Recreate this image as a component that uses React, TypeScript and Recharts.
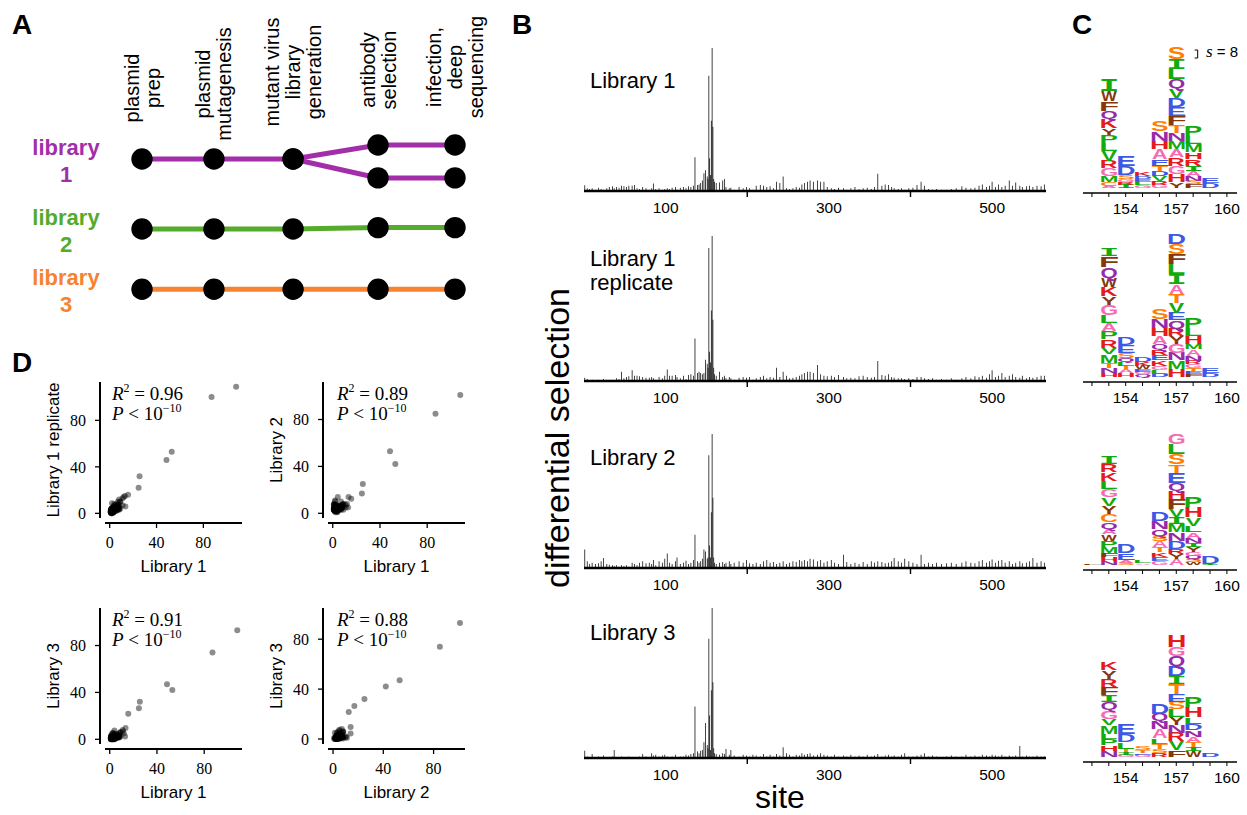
import React from 'react';
import {
  BarChart,
  Bar,
  ScatterChart,
  Scatter,
  XAxis,
  YAxis,
  ReferenceLine,
} from 'recharts';

const SANS = '"Liberation Sans", Arial, Helvetica, sans-serif';
const SERIF = '"Liberation Serif", "DejaVu Serif", "Times New Roman", serif';
const MONO = '"DejaVu Sans Mono", monospace';

/* ---------- A: how the libraries were made ---------- */
const stageLabels = [
  ['plasmid', 'prep'],
  ['plasmid', 'mutagenesis'],
  ['mutant virus', 'library', 'generation'],
  ['antibody', 'selection'],
  ['infection,', 'deep', 'sequencing'],
];
const stagePositions = [0, 1, 2.1, 3.28, 4.35];
const stageLabelMid = [88, 84, 72, 70, 67];

const lib1UpperTrack = [1, 1, 1, 0.8, 0.8];
const lib1LowerTrack = [null, null, 1, 1.27, 1.27];
const lib2Track = [2, 2, 2, 1.98, 1.98];
const lib3Track = [2.86, 2.86, 2.86, 2.86, 2.86];
const libraryRows = [1, 2, 2.86];
const libraryNumbers = ['1', '2', '3'];
const libraryColors = ['#a22eaa', '#55ab2b', '#f7822f'];

/* ---------- B / D: site differential selection ---------- */
const sites = [
  1, 4, 7, 10, 14, 18, 21, 24, 28, 31,
  35, 37, 40, 43, 46, 49, 52, 55, 59, 62,
  65, 68, 72, 76, 80, 83, 85, 88, 92, 96,
  99, 102, 105, 108, 112, 114, 118, 122, 125, 128,
  131, 134, 136, 139, 141, 143, 145, 147, 149, 151,
  152, 153, 154, 155, 156, 157, 158, 159, 160, 162,
  166, 170, 172, 174, 178, 180, 184, 190, 195, 199,
  203, 207, 211, 216, 220, 224, 228, 232, 236, 240,
  244, 248, 252, 256, 260, 264, 267, 270, 274, 277,
  281, 286, 290, 294, 298, 303, 307, 312, 318, 322,
  327, 332, 337, 342, 347, 352, 356, 360, 365, 369,
  373, 377, 380, 385, 389, 393, 398, 403, 408, 413,
  417, 422, 427, 432, 438, 444, 450, 456, 463, 468,
  474, 479, 484, 488, 493, 497, 500, 504, 508, 512,
  516, 521, 525, 529, 534, 537, 542, 546, 550, 555,
  560, 564,
];

const diffselLib1 = [
  4.3, 2, 1.5, 2, 1, 2.5, 1.5, 1, 2, 3,
  3.5, 2, 3, 2.5, 4, 3.5, 3, 4, 4, 4.5,
  2, 1.5, 3, 2, 1, 2, 5.6, 1.5, 2, 1,
  1.5, 2, 1.5, 2.5, 3, 1, 2.5, 3, 2, 3.5,
  3, 4, 25.5, 4.5, 5, 6, 8, 13.4, 15.7, 11,
  9, 87, 24.7, 12, 53, 108, 48.5, 9, 7, 6,
  6.5, 8, 9, 3, 2, 2.5, 1, 3, 2, 3,
  2, 1, 4, 4.5, 4, 3, 3.5, 2, 7, 6,
  11, 2, 1.5, 2, 3, 2.5, 5, 6, 7, 8,
  7, 8, 7, 7, 3, 2, 1.5, 2.5, 2, 1,
  2, 3, 1.5, 2, 2.5, 1.5, 3, 13, 4, 5,
  4.5, 3, 2, 1.5, 2, 1, 2, 2.5, 4.5, 7,
  4, 1.5, 1, 1.5, 1, 1, 1.5, 2, 3.5, 2.5,
  2, 2.5, 4, 5, 3, 4, 7, 3, 5, 3,
  4, 8, 4, 6.4, 4, 3, 3.5, 4, 3, 4,
  3.5, 5,
];

const diffselLib1Rep = [
  2.5, 1.5, 0, 1, 0.5, 1, 0, 1.5, 1, 0.5,
  1, 0, 2, 1.5, 7, 2, 3, 3.5, 8, 4,
  4, 3.5, 3, 2.5, 2.5, 3, 2, 1, 3, 2,
  4, 8.6, 4, 4, 4.5, 3, 2, 4, 1.5, 4.5,
  5, 4, 32, 6, 7, 6, 5, 6, 16, 13,
  10, 100, 22, 14, 53, 109, 46, 10, 5, 4,
  7, 3, 4, 2, 3, 2, 1, 2.5, 3, 2.5,
  3, 1, 2, 3, 4, 2, 3, 2.5, 10, 3,
  7, 4, 2, 2.5, 3, 4, 5, 6, 7, 7,
  6, 12, 5, 4, 3.5, 4, 3, 4.5, 3, 2,
  2.5, 2, 3.5, 4, 3, 2.5, 3, 15, 4.5, 4,
  5, 3, 2.5, 2, 2, 1.5, 2, 1.5, 3, 3,
  2, 1.5, 2, 1, 1.5, 1, 2, 1, 2, 3,
  2, 3.5, 3, 4, 2.5, 5, 8, 3, 4, 6,
  3, 4, 5, 3, 2.5, 4, 2, 3, 2.5, 3,
  4, 4,
];

const diffselLib2 = [
  14, 5, 3, 4, 3, 3.5, 5, 7.6, 3, 2.5,
  2, 1.5, 2, 1, 2, 1.5, 2, 1, 4, 3,
  2, 4, 5, 3.5, 4, 3, 6, 2, 5, 4,
  7, 11, 4, 3, 5, 8, 3, 4, 5.5, 3,
  4, 6, 25, 5, 4, 5, 7, 14, 12.5, 7,
  8, 85, 17, 8, 42, 101, 53, 8, 4, 3,
  4, 4.5, 3, 4, 5, 3, 4, 5, 4, 6,
  3.5, 3, 4, 3, 5, 6, 4, 4.5, 3, 4,
  5, 3, 4, 5, 4.5, 6, 5, 6, 5, 7,
  6.5, 5, 6, 4, 5, 6, 4, 3, 10, 4.5,
  3, 4, 3, 4.5, 3, 5, 4, 5, 4.5, 3.5,
  4, 5, 7.6, 5, 4, 7, 5, 4, 3, 10,
  3, 4, 3, 4, 3, 3.5, 4, 3, 4, 5,
  4, 3.5, 5, 6, 4, 5, 6.5, 4, 5.5, 6,
  4, 5, 3, 4, 5, 3.5, 4, 5, 7.6, 4,
  5, 4,
];

const diffselLib3 = [
  4.5, 1, 0, 2.5, 0, 1, 0, 1.5, 0.5, 0,
  1, 5, 0.5, 0, 1, 0.5, 0, 1, 0, 0.5,
  0, 1, 2.5, 1, 0.5, 3, 1.5, 2, 1, 1.5,
  2, 1, 0.5, 1, 2, 0.5, 1, 1, 2, 1.5,
  2.5, 3, 32, 4, 3, 4.5, 5, 9.7, 21.7, 8,
  6, 74, 26.4, 5, 42, 93, 47, 6, 3, 2.5,
  2, 3, 2.5, 5.6, 2, 5, 1.5, 1, 2, 1.5,
  1, 2, 1.5, 1, 2.5, 1, 2, 1, 2.5, 1.5,
  6.6, 3, 2, 1, 2, 1.5, 3, 2, 2.5, 3,
  1.5, 2, 3, 2, 1.5, 1, 2, 1, 1.5, 1,
  2, 1, 1.5, 1, 2, 1, 1.5, 2.5, 1, 1.5,
  2, 1, 1.5, 1, 2, 3, 1, 1, 1.5, 2,
  3, 1, 1.5, 1, 0.5, 1, 1.5, 1, 1, 2,
  1, 1.5, 1, 2, 1.5, 1, 2, 1.5, 1, 2,
  1, 1.5, 1, 1.5, 7.5, 1, 1.5, 1, 1, 1.5,
  1, 1,
];

const siteTicks = [100, 200, 300, 400, 500];

/* ---------- C: per-amino-acid logos, letters listed bottom to top ---------- */
const logoLib1: [number, string][] = [
  [153, 'A2.3 C3.3 M6.7 G7.3 R7.3 V10 L8.3 P8.3 Y6.7 K9 Q8.3 F9.3 W10.7 I12'],
  [154, 'I3.3 R2.7 G2.7 S4 D9 E10.7'],
  [155, 'G3 L2.7 E3 D3 K4'],
  [156, 'G3.3 R4 V5 D5 T5 E6.7 A10 H8.3 N9.3 S10.7'],
  [157, 'Y5.7 H8.3 G8.3 R8.3 A8.3 M8.3 N8.3 T7.7 F9 E9 D9.3 V9.3 Q9 L10 I10 S11.7'],
  [158, 'F4 S3.3 N5 A5 I5 R6.7 H6.7 M8.3 L8.3 P10'],
  [159, 'D5 E5'],
];
const logoLib1Rep: [number, string][] = [
  [153, 'H4.3 N5 T5 M8.3 V6.7 R8.3 P8.3 A8.3 L8.3 G10 Y8.3 K9 W9.3 Q10.7 F11 I8.3'],
  [154, 'H4.3 A3.3 T3.3 L4 Q4.3 S5 E8.3 D8.3'],
  [155, 'Q2.7 G2.3 E2.7 W3.3 K4.3 D4.7'],
  [156, 'D3.3 L3.3 G4.3 K5.7 E5.3 R5.7 Q5 A8.3 H8.3 N9.3 S10'],
  [157, 'H8.3 M8.3 N7.7 G9 Y7.7 R7.3 Q8.3 E7.7 V10 T9 A9.3 I10 L10 F10 S10 D10'],
  [158, 'F2.7 E2.7 T4 G3.3 R3.3 N5 A6.7 M5.7 H7.7 L8.3 P10'],
  [159, 'D4.3 E5'],
];
const logoLib2: [number, string][] = [
  [152, 'F1'],
  [153, 'N3.7 H4 F4 M6 P6.7 W6.7 A5 Q6.7 C8.3 Y8.3 V8.3 G8.3 L8.3 K8.3 R8.3 I8.3'],
  [154, 'S2.3 A2.7 E6.7 D8.7'],
  [155, 'A1.7 L2.7'],
  [156, 'G4.3 E4 K4.3 T5 A6 S5.7 Q6.7 N7.7 D9'],
  [157, 'A6 Y5 R5 D8.3 N8.3 M8.3 I6.7 V8.3 F10 H8.3 Q8.3 E10 T8.3 S10 L10 G10'],
  [158, 'W2.7 S3.3 Q3.3 G3.3 Y5 I4 N5.3 A5.7 L6.7 V8.3 H10 P10'],
  [159, 'I1 D8.3'],
];
const logoLib3: [number, string][] = [
  [153, 'N6 H5.7 P6 L5.7 M8.3 V6.7 G8.3 Q8.3 I6.7 F8.3 R8.3 Y8.3 K8.3'],
  [154, 'G2.3 I2.7 T3.3 L6.7 D8.3 E10'],
  [155, 'G2.3 E1.7 T2.7 S4'],
  [156, 'R4.3 S4 T5 L5.7 A8.7 N8 Q7.7 D11'],
  [157, 'F6.7 V9 R8.7 N8 Y7.7 L7.7 S7.3 E8.3 T10 I7.7 D10 Q10 G9 H11.7'],
  [158, 'W6 I4 T5 A5 N6.7 D6.7 L6.7 H10 P10'],
  [159, 'D4'],
];
const logoTicks = [152, 153, 154, 155, 156, 157, 158, 159, 160];
const logoLabelSites = [154, 157, 160];
const scaleBarSize = 8;

const aaColors: Record<string, string> = {
  G: '#f76ab4', A: '#f76ab4',
  S: '#ff7f00', T: '#ff7f00', C: '#ff7f00',
  V: '#12ab0d', L: '#12ab0d', I: '#12ab0d', M: '#12ab0d', P: '#12ab0d',
  F: '#84380b', W: '#84380b', Y: '#84380b',
  N: '#972aa8', Q: '#972aa8',
  D: '#3c58e5', E: '#3c58e5',
  K: '#e41a1c', R: '#e41a1c', H: '#e41a1c',
};

// bold sans ink widths (em) used to stretch each letter over its slot
const glyphInk: Record<string, [number, number]> = {
  A: [0.0, 0.72], C: [0.05, 0.67], D: [0.07, 0.66], E: [0.07, 0.6], F: [0.07, 0.54],
  G: [0.05, 0.72], H: [0.07, 0.65], K: [0.07, 0.7], L: [0.07, 0.58], M: [0.07, 0.76],
  N: [0.07, 0.65], P: [0.07, 0.63], Q: [0.04, 0.74], R: [0.07, 0.7], S: [0.04, 0.63],
  T: [0.02, 0.59], V: [0.0, 0.67], W: [0.0, 0.94], Y: [0.0, 0.67], I: [0.08, 0.52],
};

/* ---------- D: correlation annotations ---------- */
const rSquared = ['0.96', '0.89', '0.91', '0.88'];

/* ================= A ================= */
const trackPoints = (track: (number | null)[]) =>
  stagePositions
    .map((x, i) => ({ x, y: track[i] }))
    .filter((p) => p.y !== null);

const StageTick = (props: any) => {
  const { x, payload } = props;
  const idx = stagePositions.indexOf(payload.value);
  if (idx < 0) return <g />;
  const lines = stageLabels[idx];
  return (
    <g>
      {lines.map((line, j) => (
        <text
          key={j}
          transform={`translate(${x + (j - (lines.length - 1) / 2) * 21},${stageLabelMid[idx]}) rotate(-90)`}
          textAnchor="middle"
          dominantBaseline="central"
          fontSize={20}
          fontFamily={SANS}
          fill="#000"
        >
          {line}
        </text>
      ))}
    </g>
  );
};

const LibraryTick = (props: any) => {
  const { y, payload } = props;
  const i = libraryRows.indexOf(payload.value);
  if (i < 0) return <g />;
  return (
    <g fill={libraryColors[i]} fontFamily={SANS} fontWeight="bold" fontSize={22}>
      <text x={66} y={y - 4} textAnchor="middle">library</text>
      <text x={66} y={y + 23} textAnchor="middle">{libraryNumbers[i]}</text>
    </g>
  );
};

const stageDot = (p: any) => <circle cx={p.cx} cy={p.cy} r={10.7} fill="#000" />;

const WorkflowPanel = () => {
  const tracks = [
    { pts: trackPoints(lib3Track), color: libraryColors[2] },
    { pts: trackPoints(lib2Track), color: libraryColors[1] },
    { pts: trackPoints(lib1UpperTrack), color: libraryColors[0] },
    { pts: trackPoints(lib1LowerTrack), color: libraryColors[0] },
  ];
  return (
    <div style={{ position: 'absolute', left: 0, top: 0 }}>
      <ScatterChart width={500} height={330} margin={{ top: 14, right: 45, bottom: 17, left: 0 }}>
        <XAxis
          type="number"
          dataKey="x"
          orientation="top"
          domain={[0, 4.35]}
          ticks={stagePositions}
          interval={0}
          axisLine={false}
          tickLine={false}
          tick={<StageTick />}
          height={110}
        />
        <YAxis
          type="number"
          dataKey="y"
          domain={[0.5, 3.2]}
          reversed
          ticks={libraryRows}
          interval={0}
          axisLine={false}
          tickLine={false}
          tick={<LibraryTick />}
          width={142}
        />
        {tracks.map((t, i) => (
          <Scatter
            key={i}
            data={t.pts}
            fill={t.color}
            line={{ stroke: t.color, strokeWidth: 5 }}
            shape={stageDot}
            isAnimationActive={false}
          />
        ))}
      </ScatterChart>
    </div>
  );
};

/* ================= B ================= */
const SiteTick = (props: any) => {
  const { x, y, payload } = props;
  if (payload.value % 200 === 0) {
    return <line x1={x} x2={x} y1={y} y2={y + 6} stroke="#000" strokeWidth={1.4} />;
  }
  return (
    <text x={x} y={y + 22} textAnchor="middle" fontSize={15.5} fontFamily={SANS} fill="#000">
      {payload.value}
    </text>
  );
};

interface TraceProps {
  values: number[];
  axisY: number;
  plotH: number;
}

const SelectionTrace = ({ values, axisY, plotH }: TraceProps) => {
  const data = sites.map((site, i) => ({ site, value: values[i] }));
  const peak = Math.max(...values);
  return (
    <div style={{ position: 'absolute', left: 584, top: axisY - plotH - 5 }}>
      <BarChart width={464} height={plotH + 35} data={data} margin={{ top: 5, right: 2, bottom: 0, left: 0 }}>
        <XAxis
          type="number"
          dataKey="site"
          domain={[0, 566]}
          allowDataOverflow
          ticks={siteTicks}
          interval={0}
          tickSize={0}
          tickMargin={0}
          axisLine={{ stroke: '#000', strokeWidth: 2.4 }}
          tickLine={false}
          tick={<SiteTick />}
          height={30}
        />
        <YAxis hide domain={[0, peak]} allowDataOverflow />
        <Bar dataKey="value" fill="#000" barSize={1.3} isAnimationActive={false} />
      </BarChart>
    </div>
  );
};

/* ================= C ================= */
const logoRows = (stacks: [number, string][], layers: number) =>
  stacks.map(([site, spec]) => {
    const row: Record<string, number | string> = { site };
    const letters = spec.split(' ');
    for (let i = 0; i < layers; i++) {
      const tok = letters[i];
      row[`h${i}`] = tok ? parseFloat(tok.slice(1)) : 0;
      row[`a${i}`] = tok ? tok[0] : '';
    }
    return row;
  });

// each letter is scaled so that its ink fills the whole slot of the stack
const Glyph = (props: any) => {
  const { x, y, width, height, aa } = props;
  if (!aa || !(height > 0.2)) return <g />;
  const mono = aa === 'I';
  const cap = mono ? 72.9 : 71.6;
  const [left, right] = glyphInk[aa] || [0.05, 0.65];
  const sx = width / ((right - left) * 100);
  return (
    <text
      transform={`translate(${x - left * 100 * sx},${y + height}) scale(${sx},${height / cap})`}
      x={0}
      y={0}
      fontSize={100}
      fontWeight="bold"
      fontFamily={mono ? MONO : SANS}
      fill={aaColors[aa]}
    >
      {aa}
    </text>
  );
};

const LogoTick = (props: any) => {
  const { x, y, payload } = props;
  return (
    <g>
      <line x1={x} x2={x} y1={y} y2={y + 4} stroke="#000" strokeWidth={1} />
      {logoLabelSites.includes(payload.value) ? (
        <text x={x} y={y + 21} textAnchor="middle" fontSize={15.5} fontFamily={SANS} fill="#000">
          {payload.value}
        </text>
      ) : null}
    </g>
  );
};

interface LogoProps {
  stacks: [number, string][];
  axisY: number;
  scaleBar?: boolean;
}

const LogoPanel = ({ stacks, axisY, scaleBar }: LogoProps) => {
  const layers = Math.max(...stacks.map(([, s]) => s.split(' ').length));
  const data = logoRows(stacks, layers);
  const barX = 158.27;
  const barBase = 130;
  return (
    <div style={{ position: 'absolute', left: 1083, top: axisY - 155 }}>
      <BarChart width={162} height={185} data={data} margin={{ top: 0, right: 8, bottom: 0, left: 0 }}>
        <XAxis
          type="number"
          dataKey="site"
          domain={[151.47, 160.6]}
          allowDataOverflow
          ticks={logoTicks}
          interval={0}
          tickSize={0}
          tickMargin={0}
          axisLine={{ stroke: '#000', strokeWidth: 1.3 }}
          tickLine={false}
          tick={<LogoTick />}
          height={30}
        />
        <YAxis hide domain={[-5, 150]} allowDataOverflow />
        {Array.from({ length: layers }, (_, i) => (
          <Bar
            key={i}
            dataKey={`h${i}`}
            stackId="logo"
            barSize={15.5}
            isAnimationActive={false}
            shape={(p: any) => <Glyph {...p} aa={p.payload[`a${i}`]} />}
          />
        ))}
        {scaleBar ? (
          <ReferenceLine
            segment={[{ x: barX, y: barBase }, { x: barX, y: barBase + scaleBarSize }]}
            stroke="#000"
            strokeWidth={1}
          />
        ) : null}
        {scaleBar ? (
          <ReferenceLine
            segment={[{ x: barX - 0.18, y: barBase }, { x: barX, y: barBase }]}
            stroke="#000"
            strokeWidth={1}
          />
        ) : null}
        {scaleBar ? (
          <ReferenceLine
            segment={[{ x: barX - 0.18, y: barBase + scaleBarSize }, { x: barX, y: barBase + scaleBarSize }]}
            stroke="#000"
            strokeWidth={1}
          />
        ) : null}
      </BarChart>
    </div>
  );
};

/* ================= D ================= */
const pointShape = (p: any) => (
  <circle cx={p.cx} cy={p.cy} r={3} fill="#000" fillOpacity={0.45} />
);

interface CorrProps {
  xs: number[];
  ys: number[];
  xLabel: string;
  yLabel: string;
  left: number;
  top: number;
}

const CorrelationPlot = ({ xs, ys, xLabel, yLabel, left, top }: CorrProps) => {
  const data = xs.map((x, i) => ({ x, y: ys[i] }));
  const hi = Math.max(...xs, ...ys) + 4;
  const dom: [number, number] = [-4, hi];
  const tickFont = { fill: '#000', fontSize: 16, fontFamily: SERIF };
  return (
    <div style={{ position: 'absolute', left, top }}>
      <ScatterChart width={253} height={208} margin={{ top: 10, right: 12, bottom: 2, left: 0 }}>
        <XAxis
          type="number"
          dataKey="x"
          domain={dom}
          allowDataOverflow
          ticks={[0, 40, 80]}
          interval={0}
          tickSize={5}
          tickMargin={14}
          axisLine={{ stroke: '#000', strokeWidth: 2, transform: 'translate(0,5)' }}
          tickLine={{ stroke: '#000', strokeWidth: 1.3, transform: 'translate(0,5)' }}
          tick={tickFont}
          height={60}
          label={{ value: xLabel, position: 'insideBottom', offset: 6, fontSize: 17, fontFamily: SANS, fill: '#000' }}
        />
        <YAxis
          type="number"
          dataKey="y"
          domain={dom}
          allowDataOverflow
          ticks={[0, 40, 80]}
          interval={0}
          tickSize={5}
          tickMargin={14}
          axisLine={{ stroke: '#000', strokeWidth: 2, transform: 'translate(-5,0)' }}
          tickLine={{ stroke: '#000', strokeWidth: 1.3, transform: 'translate(-5,0)' }}
          tick={tickFont}
          width={104}
          label={{ value: yLabel, angle: -90, position: 'center', fontSize: 17, fontFamily: SANS, fill: '#000' }}
        />
        <Scatter data={data} shape={pointShape} isAnimationActive={false} />
      </ScatterChart>
    </div>
  );
};

const Annotation = ({ left, top, r2 }: { left: number; top: number; r2: string }) => (
  <div
    style={{
      position: 'absolute',
      left,
      top,
      fontFamily: SERIF,
      fontSize: 19,
      lineHeight: '17px',
      whiteSpace: 'nowrap',
      color: '#000',
    }}
  >
    <div>
      <i>R</i>
      <span style={{ fontSize: 12, position: 'relative', top: -8 }}>2</span> = {r2}
    </div>
    <div>
      <i>P</i> &lt; 10
      <span style={{ fontSize: 12, position: 'relative', top: -8 }}>−10</span>
    </div>
  </div>
);

/* ================= layout ================= */
const txt = (left: number, top: number, size: number, extra: React.CSSProperties = {}) => ({
  position: 'absolute' as const,
  left,
  top,
  fontSize: size,
  lineHeight: `${size}px`,
  fontFamily: SANS,
  whiteSpace: 'nowrap' as const,
  color: '#000',
  ...extra,
});

const App: React.FC = () => {
  const traces = [
    { name: ['Library 1'], values: diffselLib1, axisY: 190.5, plotH: 143, labelTop: 69 },
    { name: ['Library 1', 'replicate'], values: diffselLib1Rep, axisY: 380.5, plotH: 145, labelTop: 247 },
    { name: ['Library 2'], values: diffselLib2, axisY: 568, plotH: 134, labelTop: 446 },
    { name: ['Library 3'], values: diffselLib3, axisY: 758, plotH: 150, labelTop: 621 },
  ];
  const logos = [
    { stacks: logoLib1, axisY: 192.7, scaleBar: true },
    { stacks: logoLib1Rep, axisY: 381.7 },
    { stacks: logoLib2, axisY: 570 },
    { stacks: logoLib3, axisY: 761.7 },
  ];
  const corr = [
    { xs: diffselLib1, ys: diffselLib1Rep, xLabel: 'Library 1', yLabel: 'Library 1 replicate', left: 1, top: 372 },
    { xs: diffselLib1, ys: diffselLib2, xLabel: 'Library 1', yLabel: 'Library 2', left: 224, top: 372 },
    { xs: diffselLib1, ys: diffselLib3, xLabel: 'Library 1', yLabel: 'Library 3', left: 1, top: 598 },
    { xs: diffselLib2, ys: diffselLib3, xLabel: 'Library 2', yLabel: 'Library 3', left: 224, top: 598 },
  ];

  return (
    <div
      style={{
        position: 'absolute',
        left: 0,
        top: 0,
        width: 1247,
        height: 815,
        background: '#fff',
        overflow: 'hidden',
        fontFamily: SANS,
      }}
    >
      <WorkflowPanel />

      {traces.map((t, i) => (
        <React.Fragment key={i}>
          <SelectionTrace values={t.values} axisY={t.axisY} plotH={t.plotH} />
          <div style={txt(590, t.labelTop, 22, { lineHeight: '24px' })}>
            {t.name.map((n) => (
              <div key={n}>{n}</div>
            ))}
          </div>
        </React.Fragment>
      ))}
      <div style={txt(557, 438, 34, { transform: 'translate(-50%,-50%) rotate(-90deg)' })}>
        differential selection
      </div>
      <div style={txt(780, 797, 32, { transform: 'translate(-50%,-50%)' })}>site</div>

      {logos.map((l, i) => (
        <LogoPanel key={i} stacks={l.stacks} axisY={l.axisY} scaleBar={l.scaleBar} />
      ))}
      <div style={txt(1206, 44, 15)}>
        <span style={{ fontFamily: SERIF, fontStyle: 'italic', fontSize: 17 }}>s</span> = {scaleBarSize}
      </div>

      {corr.map((c, i) => (
        <CorrelationPlot key={i} {...c} />
      ))}
      <Annotation left={112} top={385} r2={rSquared[0]} />
      <Annotation left={337} top={385} r2={rSquared[1]} />
      <Annotation left={112} top={611} r2={rSquared[2]} />
      <Annotation left={337} top={611} r2={rSquared[3]} />

      <div style={txt(12, 11, 28, { fontWeight: 'bold' })}>A</div>
      <div style={txt(512, 11, 28, { fontWeight: 'bold' })}>B</div>
      <div style={txt(1072, 11, 28, { fontWeight: 'bold' })}>C</div>
      <div style={txt(12, 349, 28, { fontWeight: 'bold' })}>D</div>
    </div>
  );
};

export default App;
